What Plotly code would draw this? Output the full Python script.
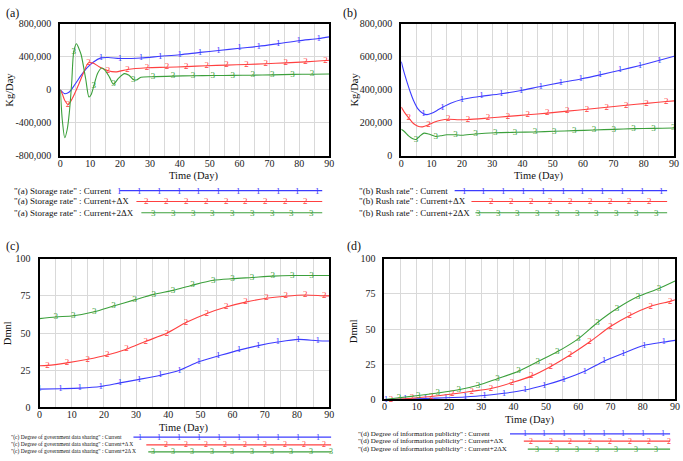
import plotly.graph_objects as go

W, H = 683, 461
BLUE = "#3c3cff"
RED = "#ff4040"
GREEN = "#3ca03c"
GRID = "#d9d9d9"
FONT = "Liberation Serif, Times New Roman, Times, serif"

DAY_TICKS = [0, 10, 20, 30, 40, 50, 60, 70, 80, 90]

# ---------------- (a) Storage rate ----------------
a_ticks = [-800000, -400000, 0, 400000, 800000]
a_ticktext = ["-800,000", "-400,000", "0", "400,000", "800,000"]
a1_days = [0, 1.5, 3, 5, 7, 9, 11, 13.6, 16, 20, 27, 33.5, 40, 46.8, 53, 60, 66.4, 73, 79.8, 86.5, 90]
a1_vals = [0, -47000, -27000, 70000, 176000, 267000, 333000, 385000, 390000, 378000, 384000, 404000,
           423000, 451000, 474000, 502000, 525000, 557000, 592000, 619000, 639000]
a1_marks = [13.6, 20, 27, 33.5, 40, 46.8, 53, 60, 66.4, 73, 79.8, 86.5]

a2_days = [0, 0.7, 1.5, 2.6, 4, 6, 8, 9.4, 11, 13, 16, 18.5, 22.5, 29, 35.7, 42.2, 49, 55.6, 62.3, 68.8,
           75.5, 82.1, 88.8, 90]
a2_vals = [0, -55000, -130000, -178000, -106000, 51000, 227000, 325000, 322000, 278000, 230000, 216000,
           245000, 265000, 272000, 280000, 290000, 298000, 306000, 314000, 325000, 337000, 353000, 357000]
a2_marks = [2.6, 9.4, 16, 22.5, 29, 35.7, 42.2, 49, 55.6, 62.3, 68.8, 75.5, 82.1, 88.8]

a3_days = [0, 0.7, 1.5, 2.3, 3, 3.8, 4.5, 5.4, 6.3, 7, 8.5, 9.6, 10.3, 11.2, 12.5, 13.9, 15, 16.5, 17.8,
           19.5, 21.5, 23, 24.4, 25.5, 27, 31, 37.7, 44.4, 51, 57.7, 64.4, 71, 77.7, 84.3, 90]
a3_vals = [0, -380000, -580000, -480000, -282000, 80000, 460000, 555000, 490000, 420000, 130000, -88000,
           -60000, 44000, 200000, 262000, 235000, 150000, 68000, 140000, 195000, 175000, 125000, 118000,
           150000, 158000, 165000, 170000, 172000, 174000, 176000, 180000, 186000, 188000, 190000]
a3_marks = [4.5, 11.2, 17.8, 24.4, 31, 37.7, 44.4, 51, 57.7, 64.4, 71, 77.7, 84.3]

# ---------------- (b) Rush rate ----------------
b_ticks = [0, 200000, 400000, 600000, 800000]
b_ticktext = ["0", "200,000", "400,000", "600,000", "800,000"]
b1_days = [0, 1, 2, 3, 4, 5.5, 7.3, 8.5, 10, 11.8, 13.6, 16.5, 20, 23, 26.5, 33, 39.5, 46, 52.6, 59.2,
           65.6, 72.2, 78.8, 85.2, 90]
b1_vals = [570000, 500000, 440000, 385000, 337000, 285000, 255000, 250000, 258000, 275000, 294000,
           320000, 341000, 352000, 361000, 376000, 396000, 420000, 443000, 465000, 490000, 518000,
           547000, 578000, 602000]
b1_marks = [7.3, 13.6, 20, 26.5, 33, 39.5, 46, 52.6, 59.2, 65.6, 72.2, 78.8, 85.2]

b2_days = [0, 1, 2.5, 4, 5.5, 7, 9, 11, 13, 15.5, 19, 22, 28.6, 35.2, 41.7, 48.2, 54.8, 61.3, 67.8,
           74.2, 80.9, 87.4, 90]
b2_vals = [295000, 265000, 229000, 196000, 180000, 176000, 188000, 205000, 216000, 222000, 219000,
           220000, 229000, 239000, 249000, 259000, 271000, 282000, 294000, 306000, 318000, 329000, 333000]
b2_marks = [2.5, 9, 15.5, 22, 28.6, 35.2, 41.7, 48.2, 54.8, 61.3, 67.8, 74.2, 80.9, 87.4]

b3_days = [0, 1, 2.5, 3.8, 4.9, 6, 7.5, 9, 11.4, 13, 15, 17.9, 20, 24.5, 31, 37.5, 44.1, 50.5, 57.1,
           63.6, 70.1, 76.6, 83.2, 89.7, 90]
b3_vals = [162000, 148000, 120000, 104000, 100000, 118000, 138000, 133000, 118000, 122000, 128000,
           128000, 125000, 133000, 140000, 143000, 145000, 149000, 153000, 157000, 161000, 165000,
           167000, 169000, 169000]
b3_marks = [4.9, 11.4, 17.9, 24.5, 31, 37.5, 44.1, 50.5, 57.1, 63.6, 70.1, 76.6, 83.2, 89.7]

# ---------------- (c) Degree of government data sharing ----------------
pct_ticks = [0, 25, 50, 75, 100]
pct_ticktext = ["0", "25", "50", "75", "100"]
c1_days = [0, 6.5, 12.5, 19, 25, 31, 37.5, 43.5, 49.5, 55.5, 62, 68, 74, 80.4, 86.5, 90]
c1_vals = [12.2, 12.5, 12.9, 14, 16.4, 18.8, 21.6, 24.9, 30.6, 34.5, 38.5, 41.5, 43.9, 45.7, 44.8, 44.6]
c1_marks = [0, 6.5, 12.5, 19, 25, 31, 37.5, 43.5, 49.5, 55.5, 62, 68, 74, 80.4, 86.5]

c2_days = [0, 2.5, 8.5, 15, 21, 27, 33, 39.5, 45.5, 52, 58, 64, 70.5, 76.5, 82.6, 88.5, 90]
c2_vals = [28, 28.2, 29.9, 32.3, 35.2, 39.1, 44.4, 49.8, 57, 63.2, 67.5, 70.8, 73.4, 74.8, 75.6, 75, 75]
c2_marks = [2.5, 8.5, 15, 21, 27, 33, 39.5, 45.5, 52, 58, 64, 70.5, 76.5, 82.6, 88.5]

c3_days = [0, 5, 10.5, 17, 23, 29.5, 35.5, 41.5, 47.5, 54, 60, 66, 72.5, 78.5, 84.5, 90]
c3_vals = [59.7, 60.8, 61.6, 64.3, 68.2, 72.3, 76, 78.7, 82.2, 85.5, 86.6, 87.4, 88.3, 88.7, 88.7, 88.7]
c3_marks = [5, 10.5, 17, 23, 29.5, 35.5, 41.5, 47.5, 54, 60, 66, 72.5, 78.5, 84.5]

# ---------------- (d) Degree of information publicity ----------------
d1_days = [0, 0.5, 6.4, 12.7, 19, 25, 31, 37, 43.5, 49.5, 55.5, 62, 68, 74, 80.5, 86.5, 90]
d1_vals = [0, 0, 0.2, 0.7, 1.2, 1.8, 2.8, 4.4, 6.7, 10.1, 14.3, 20, 27.2, 32.8, 38.5, 40.8, 42]
d1_marks = [0.5, 6.4, 12.7, 19, 25, 31, 37, 43.5, 49.5, 55.5, 62, 68, 74, 80.5, 86.5]

d2_days = [0, 2, 8.5, 14.5, 21, 27, 33, 39.5, 45.5, 51.5, 57.5, 63.5, 70, 76, 82.5, 88.5, 90]
d2_vals = [0, 0, 0.9, 2.1, 3.9, 5.8, 7.8, 12, 16.6, 23.5, 31.6, 40.8, 51.9, 59.7, 66.2, 69.7, 70.8]
d2_marks = [2, 8.5, 14.5, 21, 27, 33, 39.5, 45.5, 51.5, 57.5, 63.5, 70, 76, 82.5, 88.5]

d3_days = [0, 4.5, 10.5, 16.5, 23, 29, 35, 41.5, 47.5, 53.5, 60, 66, 72, 78.5, 85, 90]
d3_vals = [0, 1.2, 2.8, 4.6, 6.9, 10.1, 14.8, 20.1, 27, 33.9, 43.1, 54.7, 64.6, 73.1, 78.9, 84.2]
d3_marks = [4.5, 10.5, 16.5, 23, 29, 35, 41.5, 47.5, 53.5, 60, 66, 72, 78.5, 85]

# legend labels
a_legend = ['"(a) Storage rate" : Current', '"(a) Storage rate" : Current+ΔX', '"(a) Storage rate" : Current+2ΔX']
b_legend = ['"(b) Rush rate" : Current', '"(b) Rush rate" : Current+ΔX', '"(b) Rush rate" : Current+2ΔX']
c_legend = ['"(c) Degree of government data sharing" : Current',
            '"(c) Degree of government data sharing" : Current+Δ X',
            '"(c) Degree of government data sharing" : Current+2Δ X']
d_legend = ['"(d) Degree of information publicity" : Current',
            '"(d) Degree of information publicity" : Current+ΔX',
            '"(d) Degree of information publicity" : Current+2ΔX']

COLORS = [BLUE, RED, GREEN]

fig = go.Figure()


def add_series(days, vals, marks, idx, axis_n):
    txt = [str(idx) if d in marks else "" for d in days]
    sfx = "" if axis_n == 1 else str(axis_n)
    fig.add_trace(go.Scatter(
        x=days, y=vals, mode="lines+text", text=txt, textposition="middle center",
        textfont=dict(family=FONT, size=9, color=COLORS[idx - 1]),
        line=dict(color=COLORS[idx - 1], width=1.1, shape="spline", smoothing=0.8),
        cliponaxis=False, showlegend=False, hoverinfo="skip",
        xaxis="x" + sfx, yaxis="y" + sfx))


add_series(a1_days, a1_vals, a1_marks, 1, 1)
add_series(a2_days, a2_vals, a2_marks, 2, 1)
add_series(a3_days, a3_vals, a3_marks, 3, 1)
add_series(b1_days, b1_vals, b1_marks, 1, 2)
add_series(b2_days, b2_vals, b2_marks, 2, 2)
add_series(b3_days, b3_vals, b3_marks, 3, 2)
add_series(c1_days, c1_vals, c1_marks, 1, 3)
add_series(c2_days, c2_vals, c2_marks, 2, 3)
add_series(c3_days, c3_vals, c3_marks, 3, 3)
add_series(d1_days, d1_vals, d1_marks, 1, 4)
add_series(d2_days, d2_vals, d2_marks, 2, 4)
add_series(d3_days, d3_vals, d3_marks, 3, 4)


def xdom(x0, x1):
    return [x0 / W, x1 / W]


def ydom(y0, y1):
    return [1 - y1 / H, 1 - y0 / H]


def xaxis(dom, anchor, fs):
    return dict(domain=dom, anchor=anchor, range=[0, 90], tickmode="array", tickvals=DAY_TICKS,
                showgrid=True, gridcolor=GRID, gridwidth=1,
                minor=dict(tickmode="array", tickvals=[5, 15, 25, 35, 45, 55, 65, 75, 85],
                           showgrid=True, gridcolor=GRID, gridwidth=1, ticks=""),
                showline=True, mirror=True, linecolor="black", linewidth=2, zeroline=False,
                ticks="", ticklabelstandoff=-3,
                tickfont=dict(family=FONT, size=fs, color="#222"), fixedrange=True)


def yaxis(dom, anchor, rng, tv, tt, fs):
    return dict(domain=dom, anchor=anchor, range=rng, tickmode="array", tickvals=tv, ticktext=tt,
                showgrid=True, gridcolor=GRID, gridwidth=1,
                showline=True, mirror=True, linecolor="black", linewidth=2, zeroline=False,
                ticks="outside", ticklen=5, tickcolor="rgba(0,0,0,0)",
                tickfont=dict(family=FONT, size=fs, color="#222"), fixedrange=True)


fig.update_layout(
    width=W, height=H, margin=dict(l=0, r=0, t=0, b=0, pad=0), autosize=False,
    paper_bgcolor="white", plot_bgcolor="white", showlegend=False,
    xaxis=xaxis(xdom(58, 330), "y", 10),
    yaxis=yaxis(ydom(18, 154), "x", [-800000, 800000], a_ticks, a_ticktext, 10),
    xaxis2=xaxis(xdom(403, 679), "y2", 10),
    yaxis2=yaxis(ydom(18, 154), "x2", [0, 800000], b_ticks, b_ticktext, 10),
    xaxis3=xaxis(xdom(37, 330), "y3", 10),
    yaxis3=yaxis(ydom(259.5, 412), "x3", [0, 100], pct_ticks, pct_ticktext, 10),
    xaxis4=xaxis(xdom(386, 680), "y4", 10),
    yaxis4=yaxis(ydom(259.5, 404), "x4", [0, 100], pct_ticks, pct_ticktext, 10),
)

ann = []
shapes = []


def text(x, y, s, size, xanchor="center", angle=0):
    ann.append(dict(x=x / W, y=1 - y / H, xref="paper", yref="paper", text=s, showarrow=False,
                    xanchor=xanchor, yanchor="middle", textangle=angle,
                    font=dict(family=FONT, size=size, color="#111")))


# panel labels
text(10, 7, "(a)", 12)
text(351, 7, "(b)", 12)
text(10, 246, "(c)", 12)
text(355, 246, "(d)", 12)

# axis titles
text(193, 175, "Time (Day)", 10.5)
text(542, 175, "Time (Day)", 10.5)
text(183, 433, "Time (Day)", 10.5)
text(533, 425, "Time (Day)", 10.5)
text(7, 86, "Kg/Day", 10.5, angle=-90)
text(356, 86, "Kg/Day", 10.5, angle=-90)
text(4, 336, "Dmnl", 10.5, angle=-90)
text(354, 334, "Dmnl", 10.5, angle=-90)


def legend_row(label, tx, y, fs, lx0, lx1, m0, nm, idx, mfs):
    text(tx, y, label, fs, xanchor="left")
    col = COLORS[idx - 1]
    shapes.append(dict(type="line", xref="paper", yref="paper", x0=lx0 / W, x1=lx1 / W,
                       y0=1 - y / H, y1=1 - y / H, line=dict(color=col, width=1.2)))
    for k in range(nm):
        ann.append(dict(x=(m0 + 20 * k) / W, y=1 - y / H, xref="paper", yref="paper", text=str(idx),
                        showarrow=False, xanchor="center", yanchor="middle",
                        font=dict(family=FONT, size=mfs, color=col)))


# legend (a)
legend_row(a_legend[0], 9, 189.5, 9, 118, 323, 118.3, 11, 1, 9)
legend_row(a_legend[1], 9, 200.7, 9, 135, 323, 145.7, 9, 2, 9)
legend_row(a_legend[2], 9, 212.3, 9, 140, 323, 152.3, 9, 3, 9)
# legend (b)
legend_row(b_legend[0], 358, 189.5, 9, 457, 672, 466.7, 11, 1, 9)
legend_row(b_legend[1], 358, 200.7, 9, 474, 672, 494.3, 9, 2, 9)
legend_row(b_legend[2], 358, 212.3, 9, 478, 672, 481, 10, 3, 9)
# legend (c)
legend_row(c_legend[0], 6, 442.7, 5.5, 132, 332, 138.3, 10, 1, 8)
legend_row(c_legend[1], 6, 450.7, 5.5, 145, 332, 165, 9, 2, 8)
legend_row(c_legend[2], 6, 457.7, 5.5, 147, 332, 151.7, 10, 3, 8)
# legend (d)
legend_row(d_legend[0], 357, 439.3, 7, 513, 675, 527.7, 8, 1, 8)
legend_row(d_legend[1], 357, 446.7, 7, 527, 675, 534, 8, 2, 8)
legend_row(d_legend[2], 357, 455, 7, 531, 675, 540.7, 7, 3, 8)

fig.update_layout(annotations=ann, shapes=shapes)
fig.write_html("out.html", config={"displayModeBar": False}, post_script=(
    "document.documentElement.style.margin='0';document.body.style.margin='0';"
    "document.body.style.padding='0';document.body.style.overflow='hidden';"))
